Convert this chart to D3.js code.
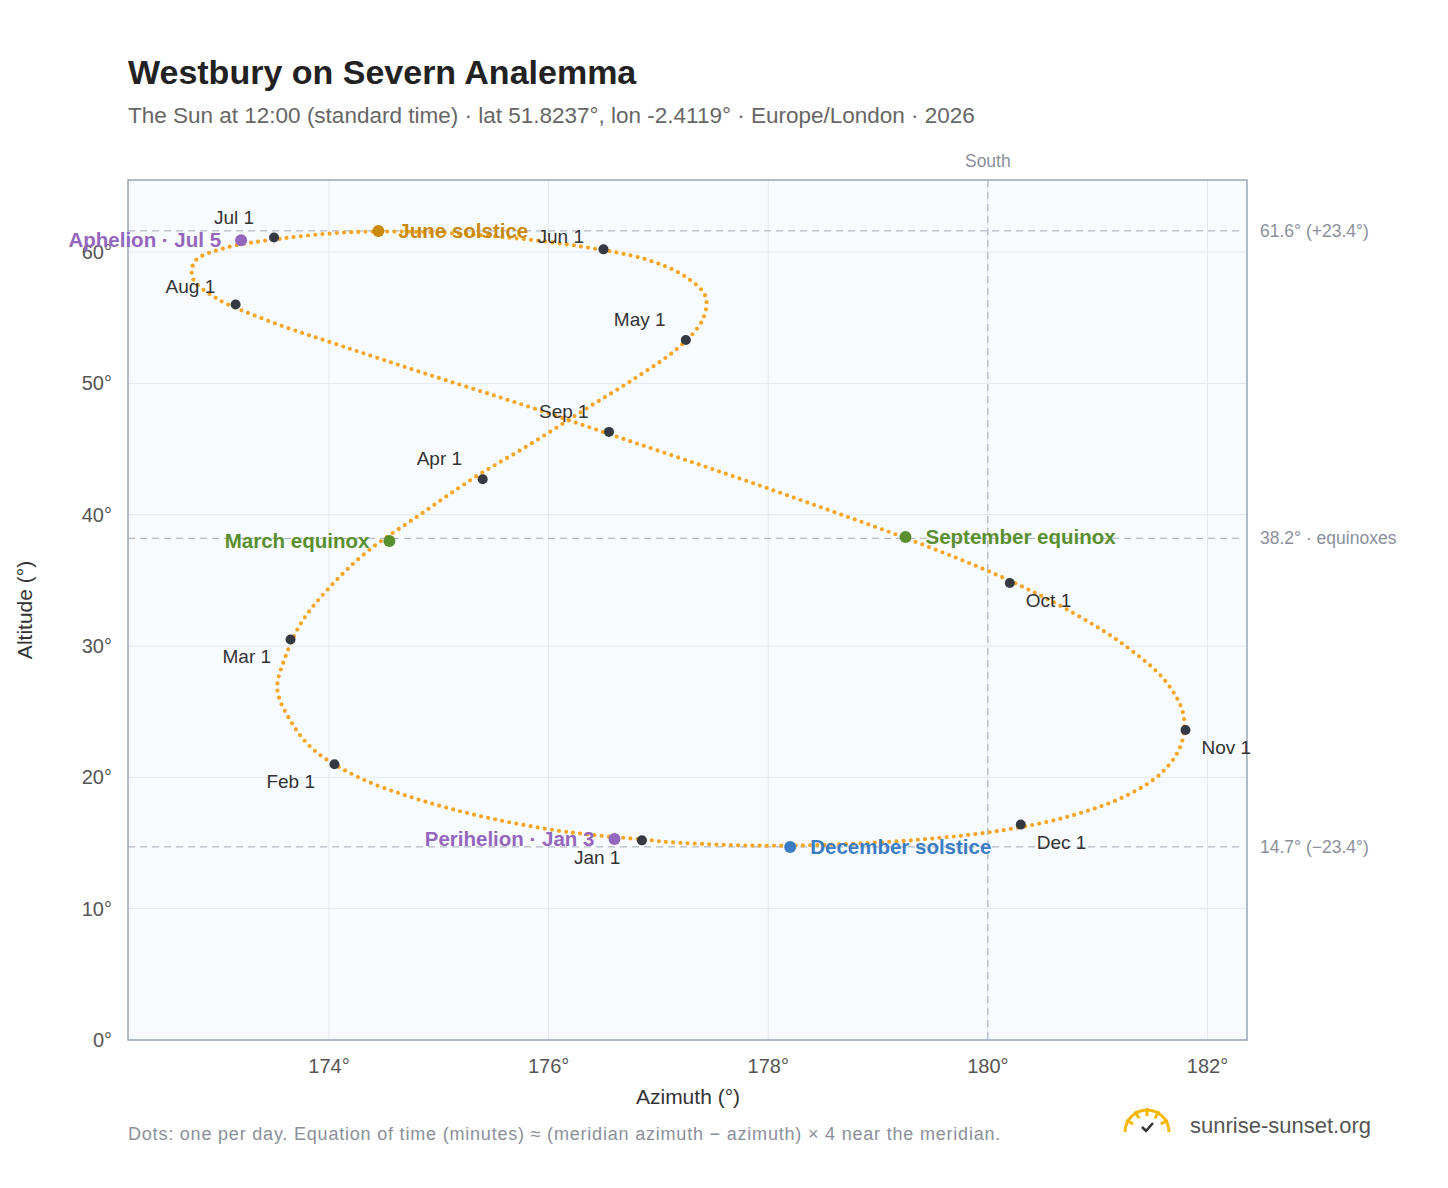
<!DOCTYPE html>
<html><head><meta charset="utf-8">
<script src="https://cdn.jsdelivr.net/npm/d3@7"></script>
<style>body{margin:0;background:#fff;font-family:"Liberation Sans",Arial,sans-serif}</style>
</head><body><div id="chart"></div>
<script>
// weekly sun positions at 12:00 (azimuth, altitude)
var pathAz = [176.94,176.16,175.43,174.8,174.27,173.86,173.65,173.53,173.6,173.75,174.01,174.35,174.83,175.32,175.84,176.33,176.79,177.18,177.4,177.43,177.25,176.9,176.31,175.63,174.91,174.19,173.55,173.05,172.78,172.76,172.97,173.45,174.13,174.93,175.79,176.67,177.62,178.5,179.35,180.14,180.78,181.27,181.62,181.78,181.76,181.59,181.26,180.77,180.16,179.44,178.66,177.85,177.04];
var pathAlt = [15.2,15.85,16.95,18.35,20.0,22.1,24.3,26.7,29.1,31.8,34.5,37.2,40.0,42.8,45.4,48.0,50.4,52.7,54.8,56.6,58.1,59.4,60.4,61.1,61.5,61.5,61.0,60.3,59.3,58.0,56.5,54.75,52.8,50.6,48.3,45.8,43.1,40.5,37.9,35.2,32.5,29.9,27.3,24.8,22.5,20.4,18.6,17.1,16.0,15.3,14.9,14.8,15.1];

var monthNames = ["Jan 1","Feb 1","Mar 1","Apr 1","May 1","Jun 1","Jul 1","Aug 1","Sep 1","Oct 1","Nov 1","Dec 1"];
var monthAz = [176.85,174.05,173.65,175.4,177.25,176.5,173.5,173.15,176.55,180.2,181.8,180.3];
var monthAlt = [15.2,21.0,30.5,42.7,53.3,60.2,61.1,56.0,46.3,34.8,23.6,16.4];
var monthDx = [-68,-68,-68,-66,-72,-66,-60,-70,-70,16,16,16];
var monthDy = [24,24,24,-14,-14,-6,-14,-12,-14,24,24,24];

var eventNames = ["March equinox","September equinox","June solstice","December solstice","Perihelion · Jan 3","Aphelion · Jul 5"];
var eventAz = [174.55,179.25,174.45,178.2,176.6,173.2];
var eventAlt = [38.0,38.3,61.6,14.7,15.3,60.9];
var eventColor = ["#5a8f2e","#5a8f2e","#c98a0b","#3b7dc4","#9467bd","#9467bd"];
var eventAnchor = ["end","start","start","start","end","end"];

var refAlt = [61.6,38.2,14.7];
var refLabels = ["61.6° (+23.4°)","38.2° · equinoxes","14.7° (−23.4°)"];
var xTicks = [174,176,178,180,182];
var yTicks = [0,10,20,30,40,50,60];

var W = 1448, H = 1188;
var L = 128, R = 1247, T = 180, B = 1040;
var svg = d3.select("#chart").append("svg").attr("width", W).attr("height", H);

var x = d3.scaleLinear().domain([172.17, 182.36]).range([L, R]);
var y = d3.scaleLinear().domain([0, 65.48]).range([B, T]);

svg.append("rect").attr("x", L).attr("y", T).attr("width", R - L).attr("height", B - T).attr("fill", "#f8fbfe");

// grid
svg.selectAll(".gx").data(xTicks).enter().append("line")
    .attr("x1", function(d) { return x(d); }).attr("x2", function(d) { return x(d); })
    .attr("y1", T).attr("y2", B).attr("stroke", "#e3e8ee");
svg.selectAll(".gy").data(yTicks).enter().append("line")
    .attr("x1", L).attr("x2", R)
    .attr("y1", function(d) { return y(d); }).attr("y2", function(d) { return y(d); })
    .attr("stroke", "#e3e8ee");

// reference lines
svg.selectAll(".ref").data(refAlt).enter().append("line")
    .attr("x1", L).attr("x2", 1240)
    .attr("y1", function(d) { return y(d); }).attr("y2", function(d) { return y(d); })
    .attr("stroke", "#b4bcc8").attr("stroke-width", 1.3).attr("stroke-dasharray", "7,5");
svg.selectAll(".refl").data(refAlt).enter().append("text")
    .attr("x", 1260).attr("y", function(d) { return y(d) + 6; })
    .attr("font-size", 17.5).attr("fill", "#8a909a")
    .text(function(d, i) { return refLabels[i]; });

svg.append("line").attr("x1", x(180)).attr("x2", x(180)).attr("y1", T).attr("y2", B)
    .attr("stroke", "#b4bcc8").attr("stroke-width", 1.3).attr("stroke-dasharray", "7,5");
svg.append("text").attr("x", x(180)).attr("y", 167).attr("text-anchor", "middle")
    .attr("font-size", 17.5).attr("fill", "#8a909a").text("South");

svg.append("rect").attr("x", L).attr("y", T).attr("width", R - L).attr("height", B - T)
    .attr("fill", "none").attr("stroke", "#9aa5b4").attr("stroke-width", 1.5);

// axes
svg.selectAll(".xt").data(xTicks).enter().append("text")
    .attr("x", function(d) { return x(d); }).attr("y", 1073).attr("text-anchor", "middle")
    .attr("font-size", 20).attr("fill", "#555").text(function(d) { return d + "°"; });
svg.selectAll(".yt").data(yTicks).enter().append("text")
    .attr("x", 112).attr("y", function(d) { return y(d) + 7; }).attr("text-anchor", "end")
    .attr("font-size", 20).attr("fill", "#555").text(function(d) { return d + "°"; });
svg.append("text").attr("x", 688).attr("y", 1104).attr("text-anchor", "middle")
    .attr("font-size", 21).attr("fill", "#333").text("Azimuth (°)");
svg.append("text").attr("transform", "translate(32,610) rotate(-90)").attr("text-anchor", "middle")
    .attr("font-size", 21).attr("fill", "#333").text("Altitude (°)");

// analemma dots
var line = d3.line().x(function(d) { return x(d[0]); }).y(function(d) { return y(d[1]); })
    .curve(d3.curveCatmullRomClosed);
svg.append("path").datum(d3.zip(pathAz, pathAlt)).attr("d", line)
    .attr("fill", "none").attr("stroke", "#f5a623").attr("stroke-width", 4.2)
    .attr("stroke-linecap", "round").attr("stroke-dasharray", "0 7.2");

// month markers
svg.selectAll(".md").data(monthAz).enter().append("circle")
    .attr("cx", function(d) { return x(d); }).attr("cy", function(d, i) { return y(monthAlt[i]); })
    .attr("r", 5).attr("fill", "#353a42");
svg.selectAll(".ml").data(monthAz).enter().append("text")
    .attr("x", function(d, i) { return x(d) + monthDx[i]; })
    .attr("y", function(d, i) { return y(monthAlt[i]) + monthDy[i]; })
    .attr("font-size", 19).attr("fill", "#333").text(function(d, i) { return monthNames[i]; });

// events
svg.selectAll(".ed").data(eventAz).enter().append("circle")
    .attr("cx", function(d) { return x(d); }).attr("cy", function(d, i) { return y(eventAlt[i]); })
    .attr("r", 6).attr("fill", function(d, i) { return eventColor[i]; });
svg.selectAll(".el").data(eventAz).enter().append("text")
    .attr("x", function(d, i) { return x(d) + (eventAnchor[i] == "end" ? -20 : 20); })
    .attr("y", function(d, i) { return y(eventAlt[i]) + 7; })
    .attr("text-anchor", function(d, i) { return eventAnchor[i]; })
    .attr("font-size", 20.5).attr("font-weight", "bold")
    .attr("fill", function(d, i) { return eventColor[i]; })
    .text(function(d, i) { return eventNames[i]; });

// titles
svg.append("text").attr("x", 128).attr("y", 84).attr("font-size", 34).attr("font-weight", "bold")
    .attr("fill", "#222").text("Westbury on Severn Analemma");
svg.append("text").attr("x", 128).attr("y", 123).attr("font-size", 22.5).attr("fill", "#666")
    .text("The Sun at 12:00 (standard time) · lat 51.8237°, lon -2.4119° · Europe/London · 2026");
svg.append("text").attr("x", 128).attr("y", 1140).attr("font-size", 18).attr("fill", "#8a909a")
    .attr("letter-spacing", 0.8)
    .text("Dots: one per day. Equation of time (minutes) ≈ (meridian azimuth − azimuth) × 4 near the meridian.");

// logo
var g = svg.append("g").attr("transform", "translate(1147,1128)");
g.append("path").attr("d", "M-22,4 A22,22 0 0 1 22,4").attr("fill", "none").attr("stroke", "#f5b800").attr("stroke-width", 3);
[-60, -30, 0, 30, 60].forEach(function(a) {
    var r = a * Math.PI / 180;
    g.append("line").attr("x1", 16 * Math.sin(r)).attr("y1", -16 * Math.cos(r) + 4)
        .attr("x2", 24 * Math.sin(r)).attr("y2", -24 * Math.cos(r) + 4)
        .attr("stroke", "#f5b800").attr("stroke-width", 3);
});
g.append("path").attr("d", "M-5,-1 L-1,3 L6,-5").attr("fill", "none").attr("stroke", "#333").attr("stroke-width", 2.5);
svg.append("text").attr("x", 1190).attr("y", 1133).attr("font-size", 22).attr("fill", "#555").text("sunrise-sunset.org");
</script></body></html>
